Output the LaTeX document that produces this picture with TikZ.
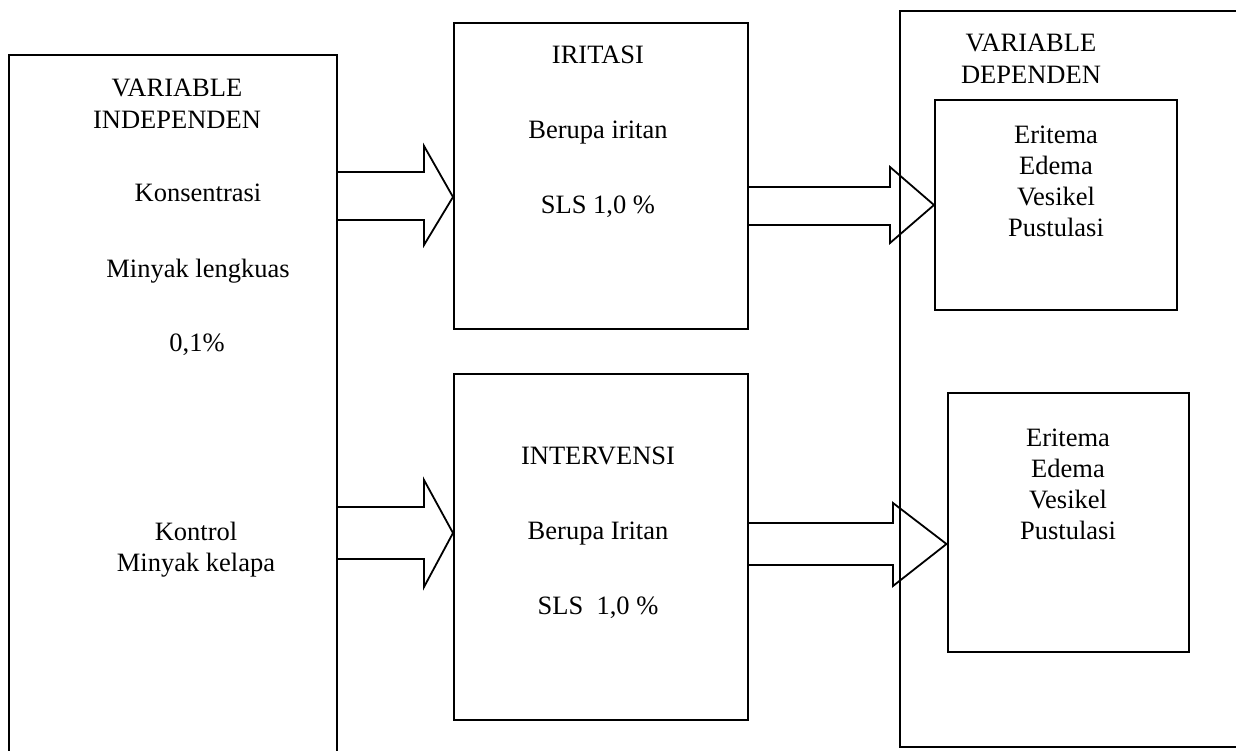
\documentclass[tikz,border=0pt]{standalone}
\usepackage{fontspec}
\setmainfont{Liberation Serif}
\begin{document}
\begin{tikzpicture}[x=1pt,y=-1pt,
  box/.style={draw=black,line width=2pt,inner sep=0pt},
  blockarrow/.style={draw=black,line width=1.8pt,line join=miter},
  lbl/.style={font=\fontsize{26.5}{31}\selectfont,anchor=base,inner sep=0pt}]
\useasboundingbox (0,0) rectangle (1236,751);
\clip (0,0) rectangle (1236,751);
% boxes
\node[box,minimum width=328pt,minimum height=720pt] (indep) at (173,415) {};
\node[box,minimum width=294pt,minimum height=306pt] (iritasi) at (601,176) {};
\node[box,minimum width=294pt,minimum height=346pt] (interv) at (601,547) {};
\node[box,minimum width=400pt,minimum height=736pt,anchor=north west] (dep) at (899,10) {};
\node[box,minimum width=242pt,minimum height=210pt] (dep1) at (1056,205) {};
\node[box,minimum width=241pt,minimum height=259pt] (dep2) at (1068,522) {};
% arrows (outline only, box borders show through)
\draw[blockarrow] (indep.east |- 0,172) -- (424,172) -- (424,146) -- (iritasi.west |- 0,197) -- (424,245) -- (424,220) -- (indep.east |- 0,220);
\draw[blockarrow] (iritasi.east |- 0,187) -- (890,187) -- (890,167) -- (dep1.west |- 0,205) -- (890,243) -- (890,225) -- (iritasi.east |- 0,225);
\draw[blockarrow] (indep.east |- 0,507) -- (424,507) -- (424,480) -- (interv.west |- 0,533) -- (424,587) -- (424,559) -- (indep.east |- 0,559);
\draw[blockarrow] (interv.east |- 0,523) -- (893,523) -- (893,503) -- (dep2.west |- 0,544) -- (893,586) -- (893,565) -- (interv.east |- 0,565);
% texts left
\node[lbl] (t1) at (177,97) {VARIABLE};
\node[lbl] (t2) at (177,129) {INDEPENDEN};
\node[lbl] (t3) at (198,202) {Konsentrasi};
\node[lbl] (t4) at (198,277) {Minyak lengkuas};
\node[lbl] (t5) at (197,351) {0,1\%};
\node[lbl] (t6) at (196,540) {Kontrol};
\node[lbl] (t7) at (196,571) {Minyak kelapa};
% middle
\node[lbl] (m1) at (598,64) {IRITASI};
\node[lbl] (m2) at (598,139) {Berupa iritan};
\node[lbl] (m3) at (598,214) {SLS 1,0 \%};
\node[lbl] (m4) at (598,464) {INTERVENSI};
\node[lbl] (m5) at (598,539) {Berupa Iritan};
\node[lbl] (m6) at (598,614) {SLS\ \ 1,0 \%};
% right
\node[lbl] (r1) at (1031,52) {VARIABLE};
\node[lbl] (r2) at (1031,84) {DEPENDEN};
\node[lbl] (a1) at (1056,144) {Eritema};
\node[lbl] (a2) at (1056,175) {Edema};
\node[lbl] (a3) at (1056,206) {Vesikel};
\node[lbl] (a4) at (1056,237) {Pustulasi};
\node[lbl] (b1) at (1068,446) {Eritema};
\node[lbl] (b2) at (1068,477) {Edema};
\node[lbl] (b3) at (1068,508) {Vesikel};
\node[lbl] (b4) at (1068,539) {Pustulasi};
\end{tikzpicture}
\end{document}
